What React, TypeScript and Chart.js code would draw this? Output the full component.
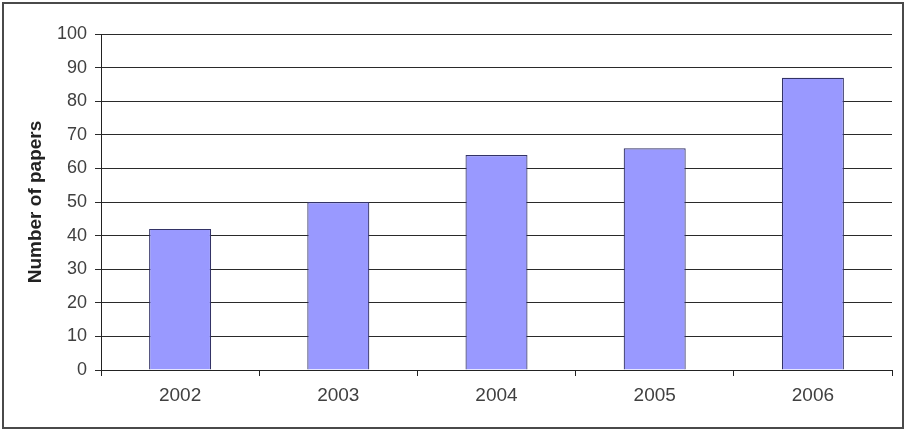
import React, { useEffect, useRef } from "react";
import { Chart, registerables } from "chart.js";

Chart.register(...registerables);

const categories: string[] = ["2002", "2003", "2004", "2005", "2006"];
const papers: number[] = [42, 50, 64, 66, 87];
const yTitle = "Number of papers";

const framePlugin = {
  id: "frame",
  afterDraw(chart: any) {
    const ctx = chart.ctx;
    ctx.save();
    ctx.strokeStyle = "#4a4a4a";
    ctx.lineWidth = 2;
    ctx.strokeRect(3, 3, 900, 425);
    ctx.restore();
  },
};

export default function App() {
  const ref = useRef<HTMLCanvasElement | null>(null);
  useEffect(() => {
    if (!ref.current) return;
    const chart = new Chart(ref.current, {
      type: "bar",
      data: {
        labels: categories,
        datasets: [
          {
            data: papers,
            backgroundColor: "#9999ff",
            borderColor: "#333366",
            borderWidth: 1.2,
            barPercentage: 0.392,
            categoryPercentage: 1,
          },
        ],
      },
      options: {
        animation: false,
        responsive: false,
        maintainAspectRatio: false,
        layout: { padding: { top: 34, right: 16, left: 0, bottom: 0 } },
        plugins: {
          legend: { display: false },
          tooltip: { enabled: false },
        },
        scales: {
          x: {
            afterFit(scale: any) {
              scale.height = 61;
            },
            grid: {
              offset: true,
              drawOnChartArea: false,
              drawTicks: true,
              tickLength: 6,
              color: "#222",
            },
            border: { display: true, color: "#222", width: 1 },
            ticks: {
              color: "#404040",
              padding: 8,
              font: { family: "Liberation Sans, Arial, sans-serif", size: 19 },
            },
          },
          y: {
            min: 0,
            max: 100,
            afterFit(scale: any) {
              scale.width = 101;
            },
            grid: {
              color: "#2a2a2a",
              lineWidth: 1,
              tickLength: 6,
            },
            border: { display: true, color: "#222", width: 1 },
            ticks: {
              stepSize: 10,
              color: "#404040",
              padding: 8,
              font: { family: "Liberation Sans, Arial, sans-serif", size: 18 },
            },
            title: {
              display: true,
              text: yTitle,
              color: "#222",
              padding: { top: 24, bottom: 0 },
              font: {
                family: "Liberation Sans, Arial, sans-serif",
                size: 19,
                weight: "bold",
              },
            },
          },
        },
      },
      plugins: [framePlugin],
    });
    return () => chart.destroy();
  }, []);
  return (
    <div
      style={{
        position: "fixed",
        left: 0,
        top: 0,
        width: 908,
        height: 431,
        background: "#fff",
      }}
    >
      <canvas ref={ref} width={908} height={431} style={{ width: 908, height: 431 }} />
    </div>
  );
}
